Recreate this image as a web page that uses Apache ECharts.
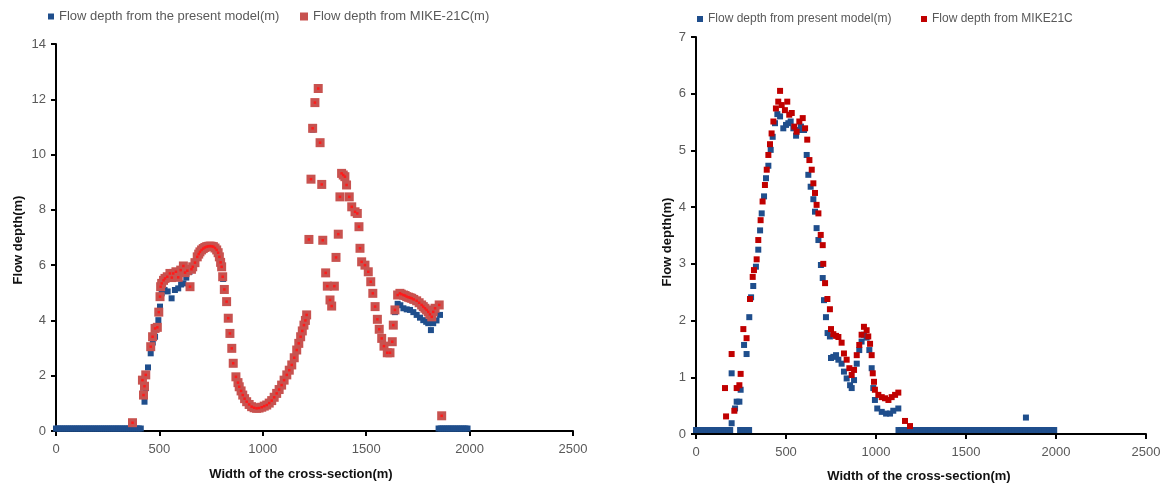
<!DOCTYPE html>
<html><head><meta charset="utf-8">
<script src="https://cdn.jsdelivr.net/npm/echarts@6/dist/echarts.min.js"></script>
<style>html,body{margin:0;padding:0;background:#fff}#c{width:1172px;height:491px}</style>
</head><body><div id="c"></div><script>
// ---- data ----
var xTicks = [0, 500, 1000, 1500, 2000, 2500];
var leftYTicks = [0, 2, 4, 6, 8, 10, 12, 14];
var rightYTicks = [0, 1, 2, 3, 4, 5, 6, 7];

var leftModelName = 'Flow depth from the present model(m)';
var leftMikeName = 'Flow depth from MIKE-21C(m)';
var rightModelName = 'Flow depth from present model(m)';
var rightMikeName = 'Flow depth from MIKE21C';

var leftModel = [
 [0,0.09],[10,0.09],[20,0.09],[30,0.09],[40,0.09],[50,0.09],[60,0.09],[70,0.09],[80,0.09],[90,0.09],[100,0.09],[110,0.09],[120,0.09],[130,0.09],[140,0.09],[150,0.09],[160,0.09],[170,0.09],[180,0.09],[190,0.09],[200,0.09],[210,0.09],[220,0.09],[230,0.09],[240,0.09],[250,0.09],[260,0.09],[270,0.09],[280,0.09],[290,0.09],[300,0.09],[310,0.09],[320,0.09],[330,0.09],[340,0.09],[350,0.09],[360,0.09],[370,0.09],[380,0.09],[390,0.09],[400,0.09],[410,0.09],
 [420,1.36],[428,1.06],[435,1.55],[445,2.3],[458,2.81],[468,3.2],[479,3.41],[488,3.75],[495,4.01],[503,4.5],[511,4.98],[525,5.1],[540,5.05],[559,4.8],[575,5.1],[591,5.16],[605,5.3],[616,5.34],[630,5.55],[645,5.75],[660,5.9],[675,6.1],[690,6.38],[705,6.55],[720,6.62],[735,6.66],[750,6.66],[765,6.62],[780,6.5],[792,6.25],[801,5.9],[808,5.5],[815,5.1],[825,4.66],[833,4.06],[841,3.5],[850,2.97],[858,2.42],[870,1.95],[886,1.58],[903,1.28],[922,1.04],[946,0.86],[970,0.8],[995,0.84],[1019,0.92],[1043,1.08],[1067,1.34],[1091,1.64],[1116,2.01],[1140,2.37],[1164,2.9],[1183,3.38],[1199,3.8],[1212,4.18],
 [1223,6.9],[1233,9.08],[1241,10.9],[1252,11.85],[1268,12.35],[1277,10.4],[1285,8.9],[1290,6.88],[1304,5.7],[1312,5.22],[1325,4.72],[1333,4.5],[1346,5.22],[1354,6.26],[1365,7.1],[1373,8.45],[1381,9.3],[1397,9.18],[1405,8.88],[1418,8.45],[1430,8.09],[1446,7.9],[1457,7.85],[1465,7.37],[1470,6.6],[1478,6.1],[1494,5.98],[1510,5.74],[1522,5.38],[1532,4.96],[1543,4.48],[1554,4.02],[1563,3.66],[1575,3.33],[1586,3.05],[1602,2.81],[1615,2.81],[1626,3.21],[1631,3.81],[1639,4.3],[1652,4.6],[1665,4.55],[1680,4.44],[1696,4.4],[1712,4.38],[1728,4.3],[1744,4.2],[1760,4.1],[1776,4.01],[1790,3.95],[1800,3.9],[1813,3.65],[1824,3.9],[1840,4.0],[1857,4.2],
 [1850,0.09],[1860,0.09],[1870,0.09],[1880,0.09],[1890,0.09],[1900,0.09],[1910,0.09],[1920,0.09],[1930,0.09],[1940,0.09],[1950,0.09],[1960,0.09],[1970,0.09],[1980,0.09],[1990,0.09]
];

var leftMike = [
 [370,0.3],[418,1.84],[423,1.3],[428,1.62],[434,2.03],[458,3.05],[467,3.41],[479,3.71],[490,3.75],[497,4.3],[503,4.86],[506,5.22],[511,5.34],[520,5.45],[527,5.52],[538,5.58],[551,5.7],[560,5.55],[567,5.7],[580,5.76],[591,5.56],[603,5.82],[616,5.97],[624,5.73],[635,5.8],[648,5.22],[655,5.85],[661,5.94],[672,6.09],[683,6.3],[690,6.4],[696,6.48],[704,6.55],[712,6.6],[720,6.64],[729,6.67],[737,6.68],[745,6.69],[753,6.68],[761,6.67],[769,6.62],[777,6.55],[784,6.45],[790,6.3],[796,6.1],[801,5.94],[806,5.58],[814,5.12],[825,4.68],[833,4.08],[841,3.53],[850,2.99],[857,2.45],[870,1.96],[880,1.75],[886,1.6],[895,1.45],[903,1.3],[912,1.17],[922,1.06],[934,0.96],[946,0.88],[958,0.84],[970,0.82],[982,0.83],[995,0.86],[1007,0.9],[1019,0.94],[1031,1.01],[1043,1.1],[1055,1.22],[1067,1.36],[1079,1.5],[1091,1.66],[1103,1.84],[1116,2.03],[1128,2.2],[1140,2.39],[1152,2.65],[1164,2.93],[1174,3.17],[1183,3.41],[1191,3.62],[1199,3.83],[1206,4.0],[1212,4.2],
 [1223,6.93],[1233,9.11],[1241,10.95],[1252,11.88],[1268,12.39],[1277,10.43],[1285,8.92],[1290,6.9],[1304,5.72],[1312,5.24],[1325,4.74],[1333,4.52],[1346,5.24],[1354,6.28],[1365,7.12],[1373,8.47],[1381,9.32],[1389,9.26],[1397,9.2],[1405,8.9],[1418,8.47],[1430,8.11],[1446,7.93],[1457,7.87],[1465,7.39],[1470,6.61],[1478,6.12],[1494,6.0],[1510,5.76],[1522,5.4],[1532,4.98],[1543,4.5],[1554,4.04],[1563,3.68],[1575,3.35],[1586,3.07],[1602,2.83],[1615,2.83],[1626,3.23],[1631,3.83],[1639,4.38],[1652,4.92],[1663,4.98],[1670,4.95],[1680,4.92],[1688,4.9],[1696,4.86],[1705,4.84],[1712,4.82],[1720,4.8],[1730,4.76],[1744,4.71],[1756,4.64],[1768,4.56],[1776,4.5],[1784,4.44],[1792,4.38],[1800,4.31],[1808,4.22],[1817,4.13],[1824,4.31],[1833,4.44],[1853,4.56],[1865,0.55]
];

var rightModel = [
 [0,0.07],[10,0.07],[20,0.07],[30,0.07],[40,0.07],[50,0.07],[60,0.07],[70,0.07],[80,0.07],[90,0.07],[100,0.07],[110,0.07],[120,0.07],[130,0.07],[140,0.07],[150,0.07],[160,0.07],[170,0.07],[180,0.07],[190,0.07],
 [198,0.19],[198,1.07],[217,0.45],[226,0.57],[241,0.57],[248,0.78],
 [245,0.07],[255,0.07],[265,0.07],[275,0.07],[285,0.07],[295,0.07],
 [267,1.57],[281,1.41],[296,2.06],[306,2.41],[318,2.61],[333,2.95],[346,3.25],[356,3.59],[365,3.89],[378,4.19],[389,4.51],[402,4.73],[415,5.01],[426,5.24],[439,5.48],[452,5.64],[467,5.6],[485,5.39],[500,5.45],[513,5.48],[526,5.51],[541,5.39],[556,5.26],[568,5.36],[583,5.42],[600,5.36],[615,4.92],[624,4.57],[637,4.36],[652,4.14],[661,3.92],[670,3.63],[680,3.42],[694,2.98],[704,2.75],[711,2.36],[722,2.06],[731,1.78],[744,1.72],[750,1.34],[763,1.36],[778,1.39],[791,1.31],[809,1.24],[822,1.1],[837,0.98],[856,0.86],[865,0.81],[878,0.95],[893,1.24],[907,1.48],[920,1.63],[933,1.75],[948,1.7],[963,1.48],[976,1.16],[985,0.81],[994,0.6],[1007,0.45],[1032,0.39],[1056,0.36],[1078,0.36],[1096,0.41],[1124,0.45],
 [1125,0.07],[1140,0.07],[1155,0.07],[1170,0.07],[1185,0.07],[1200,0.07],[1215,0.07],[1230,0.07],[1245,0.07],[1260,0.07],[1275,0.07],[1290,0.07],[1305,0.07],[1320,0.07],[1335,0.07],[1350,0.07],[1365,0.07],[1380,0.07],[1395,0.07],[1410,0.07],[1425,0.07],[1440,0.07],[1455,0.07],[1470,0.07],[1485,0.07],[1500,0.07],[1515,0.07],[1530,0.07],[1545,0.07],[1560,0.07],[1575,0.07],[1590,0.07],[1605,0.07],[1620,0.07],[1635,0.07],[1650,0.07],[1665,0.07],[1680,0.07],[1695,0.07],[1710,0.07],[1725,0.07],[1740,0.07],[1755,0.07],[1770,0.07],[1785,0.07],[1800,0.07],[1815,0.07],[1830,0.07],[1845,0.07],[1860,0.07],[1875,0.07],[1890,0.07],[1905,0.07],[1920,0.07],[1935,0.07],[1950,0.07],[1965,0.07],[1980,0.07],[1990,0.07],
 [1833,0.29]
];

var rightMike = [
 [161,0.81],[167,0.31],[198,1.41],[213,0.41],[226,0.81],[241,0.86],[248,1.06],[263,1.85],[281,1.69],[300,2.38],[315,2.77],[322,2.89],[337,3.08],[346,3.42],[359,3.77],[370,4.1],[383,4.39],[393,4.66],[402,4.92],[411,5.11],[420,5.3],[430,5.51],[444,5.74],[457,5.86],[467,6.05],[476,5.8],[494,5.71],[507,5.86],[518,5.63],[532,5.66],[546,5.42],[559,5.33],[574,5.51],[593,5.57],[606,5.39],[618,5.19],[630,4.83],[643,4.66],[652,4.42],[661,4.25],[670,4.04],[680,3.89],[693,3.51],[704,3.33],[707,3.0],[717,2.66],[730,2.38],[744,2.2],[750,1.85],[763,1.76],[778,1.73],[791,1.71],[809,1.61],[822,1.42],[837,1.31],[852,1.16],[865,1.04],[878,1.13],[893,1.39],[907,1.57],[920,1.75],[933,1.89],[948,1.83],[957,1.72],[967,1.59],[976,1.39],[982,1.07],[989,0.92],[994,0.78],[1013,0.69],[1032,0.65],[1050,0.63],[1069,0.6],[1087,0.65],[1106,0.69],[1124,0.73],[1161,0.23],[1189,0.14]
];

// ---- chart ----
var font = 'Liberation Sans, Arial, sans-serif';
function xAxis(gi){
  return {gridIndex:gi, type:'value', min:xTicks[0], max:xTicks[xTicks.length-1], interval:xTicks[1]-xTicks[0],
    axisLine:{show:true, onZero:false, lineStyle:{color:'#000', width:2}},
    axisTick:{show:true, inside:false, length:5, lineStyle:{color:'#000', width:2}},
    axisLabel:{color:'#595959', fontSize:13, fontFamily:font, margin:12, formatter:function(v){return String(v);}},
    splitLine:{show:false}};
}
function yAxis(gi, ticks){
  return {gridIndex:gi, type:'value', min:ticks[0], max:ticks[ticks.length-1], interval:ticks[1]-ticks[0],
    axisLine:{show:true, lineStyle:{color:'#000', width:2}},
    axisTick:{show:true, inside:false, length:5, lineStyle:{color:'#000', width:2}},
    axisLabel:{color:'#595959', fontSize:13, fontFamily:font, margin:10, formatter:function(v){return String(v);}},
    splitLine:{show:false}};
}
function legend(name, left, top, size, fs){
  return {data:[name], left:left, top:top, padding:0, icon:'rect', itemWidth:size, itemHeight:size,
    textStyle:{color:'#595959', fontSize:fs, fontFamily:font}, selectedMode:false};
}
function title(text, x, y, rot){
  return {type:'text', x:x, y:y, rotation:rot||0, style:{text:text, fill:'#111', font:'bold 13px ' + font, align:'center', verticalAlign:'middle'}};
}

var chart = echarts.init(document.getElementById('c'), null, {renderer:'canvas'});
chart.setOption({
  animation:false,
  backgroundColor:'#fff',
  grid:[{left:56, top:44, width:517, height:387}, {left:696, top:37, width:450, height:397}],
  xAxis:[xAxis(0), xAxis(1)],
  yAxis:[yAxis(0, leftYTicks), yAxis(1, rightYTicks)],
  legend:[
    legend(leftModelName, 48, 10, 6, 13),
    legend(leftMikeName, 300, 10, 8, 13),
    legend(rightModelName, 697, 13, 6, 12),
    legend(rightMikeName, 921, 13, 6, 12)
  ],
  graphic:[
    title('Flow depth(m)', 18, 240, Math.PI/2),
    title('Width of the cross-section(m)', 301, 474),
    title('Flow depth(m)', 667, 242, Math.PI/2),
    title('Width of the cross-section(m)', 919, 476)
  ],
  series:[
    {name:leftModelName, type:'scatter', xAxisIndex:0, yAxisIndex:0, symbol:'rect', symbolSize:6, itemStyle:{color:'#1f4e8c', opacity:1}, data:leftModel},
    {name:leftMikeName, type:'scatter', xAxisIndex:0, yAxisIndex:0, symbol:'rect', symbolSize:9, itemStyle:{color:'#c8524f', opacity:1}, data:leftMike},
    {name:'mikeDot', type:'scatter', xAxisIndex:0, yAxisIndex:0, symbol:'rect', symbolSize:2.5, silent:true, itemStyle:{color:'#ff1a1a', opacity:1}, data:leftMike},
    {name:rightModelName, type:'scatter', xAxisIndex:1, yAxisIndex:1, symbol:'rect', symbolSize:6, itemStyle:{color:'#1f4e8c', opacity:1}, data:rightModel},
    {name:rightMikeName, type:'scatter', xAxisIndex:1, yAxisIndex:1, symbol:'rect', symbolSize:6, itemStyle:{color:'#c00000', opacity:1}, data:rightMike}
  ]
});
</script></body></html>
